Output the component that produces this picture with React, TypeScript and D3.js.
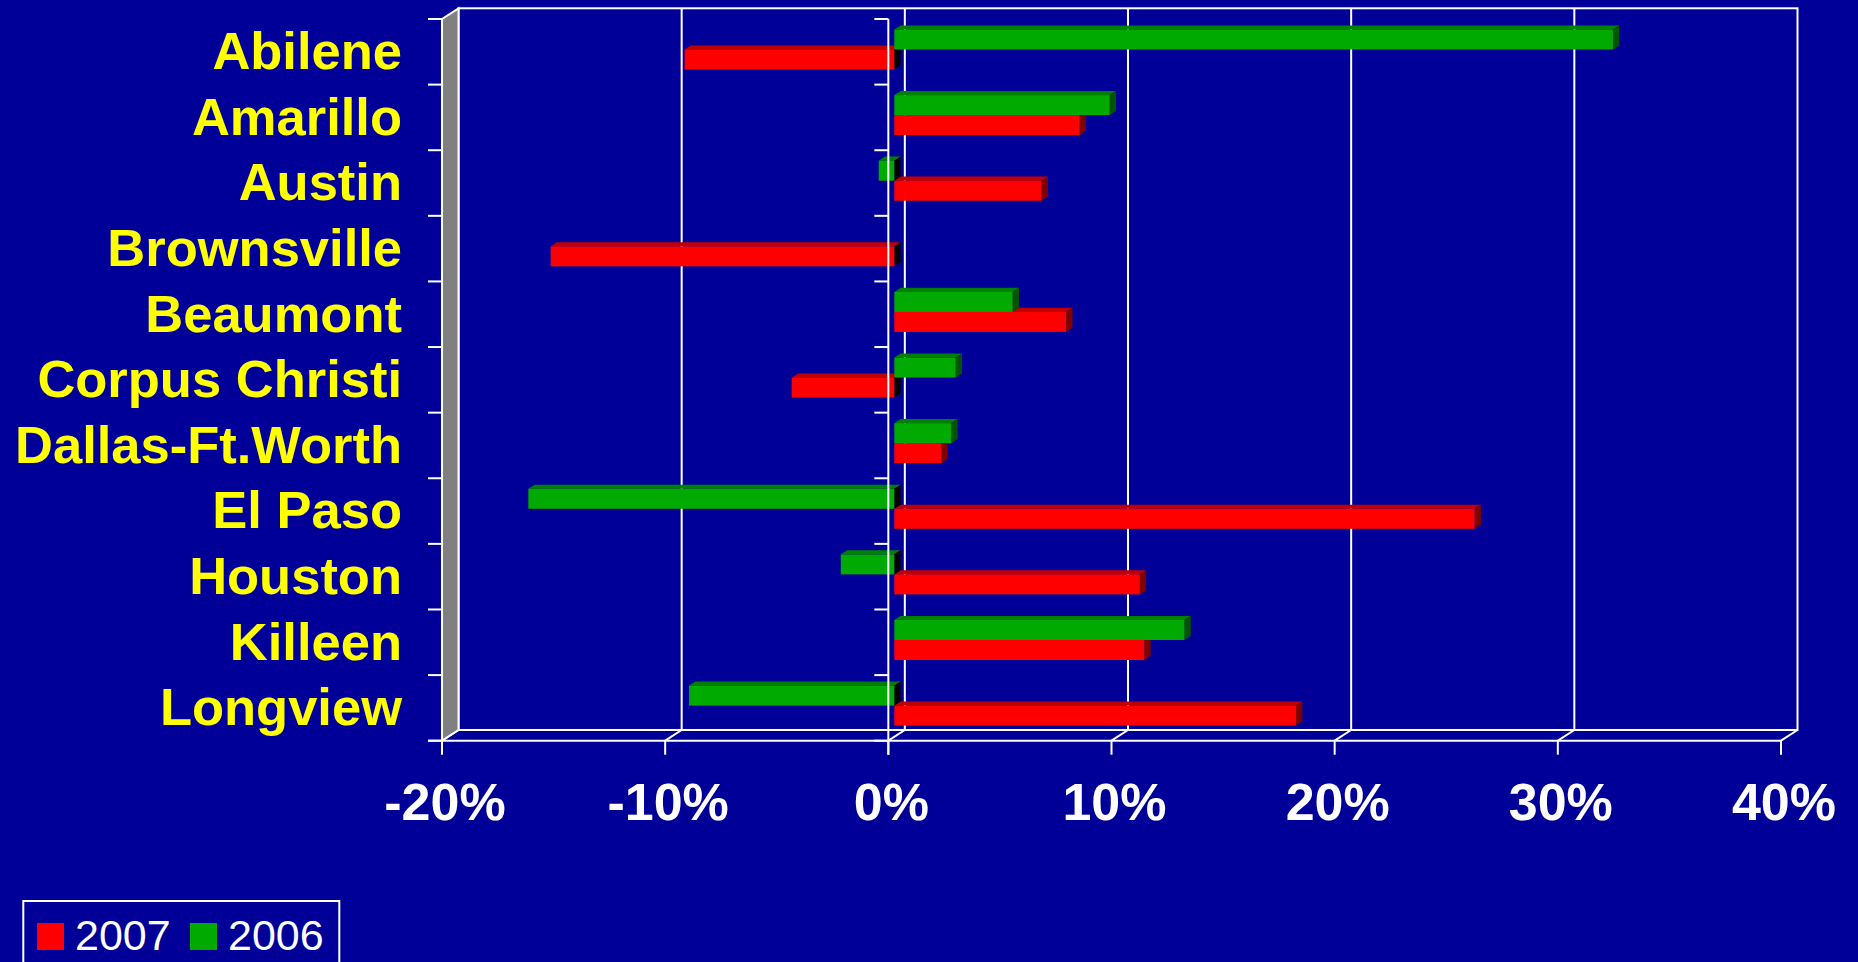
import React from "react";
import * as d3 from "d3";

const categories = [
  "Abilene",
  "Amarillo",
  "Austin",
  "Brownsville",
  "Beaumont",
  "Corpus Christi",
  "Dallas-Ft.Worth",
  "El Paso",
  "Houston",
  "Killeen",
  "Longview",
];
const values2007: (number | null)[] = [-9.4, 8.3, 6.6, -15.4, 7.7, -4.6, 2.1, 26.0, 11.0, 11.2, 18.0];
const values2006: (number | null)[] = [32.2, 9.65, -0.7, null, 5.3, 2.75, 2.55, -16.4, -2.4, 13.0, -9.2];
const xTicks = [-20, -10, 0, 10, 20, 30, 40];
const seriesNames = ["2007", "2006"];

const W = 1858;
const H = 962;
const BG = "#000099";
const FONT = "'Liberation Sans', Arial, Helvetica, sans-serif";

const colors: Record<string, { front: string; top: string; side: string }> = {
  "2007": { front: "#FF0000", top: "#C00000", side: "#800000" },
  "2006": { front: "#00AA00", top: "#008000", side: "#005500" },
};

export default function App() {
  const x = d3.scaleLinear().domain([-20, 40]).range([442, 1781]);
  const y = d3.scaleBand<string>().domain(categories).range([19, 740.7]);
  const sub = d3
    .scaleBand<string>()
    .domain(["2006", "2007"])
    .range([1.6, y.bandwidth() + 1.6])
    .paddingOuter(0.64);

  const DX = 16.5;
  const DY = -10.7;
  const fx = 6, fy = -3.9;
  const bx = 12.3, by = -8.0;

  const top = 19;
  const bottom = 740.7;
  const x0 = x(0);

  const gridVals = xTicks;
  const tickYs = d3.range(categories.length + 1).map((i) => top + i * y.step());

  type Bar = { cat: string; series: string; v: number };
  const bars: Bar[] = [];
  for (let i = categories.length - 1; i >= 0; i--) {
    const v7 = values2007[i];
    const v6 = values2006[i];
    if (v7 !== null) bars.push({ cat: categories[i], series: "2007", v: v7 });
    if (v6 !== null) bars.push({ cat: categories[i], series: "2006", v: v6 });
  }

  const pts = (arr: [number, number][]) => arr.map((p) => p.join(",")).join(" ");

  return (
    <svg
      width={W}
      height={H}
      style={{ position: "absolute", left: 0, top: 0, display: "block", background: BG }}
    >
      <rect x={0} y={0} width={W} height={H} fill={BG} />
      {/* back wall */}
      <rect
        x={x(-20) + DX}
        y={top + DY}
        width={x(40) - x(-20)}
        height={bottom - top}
        fill="none"
        stroke="#fff"
        strokeWidth={2}
      />
      {gridVals.slice(1, -1).map((v) => (
        <line
          key={"g" + v}
          x1={x(v) + DX}
          x2={x(v) + DX}
          y1={top + DY}
          y2={bottom + DY}
          stroke="#fff"
          strokeWidth={2}
        />
      ))}
      {/* floor */}
      <line x1={428} x2={x(40)} y1={bottom} y2={bottom} stroke="#fff" strokeWidth={2} />
      {gridVals.map((v) => (
        <g key={"f" + v}>
          <line x1={x(v)} y1={bottom} x2={x(v) + DX} y2={bottom + DY} stroke="#fff" strokeWidth={2} />
          <line x1={x(v)} y1={bottom} x2={x(v)} y2={bottom + 14} stroke="#fff" strokeWidth={2} />
        </g>
      ))}
      {/* left wall */}
      <polygon
        points={pts([
          [x(-20), top],
          [x(-20) + DX, top + DY],
          [x(-20) + DX, bottom + DY],
          [x(-20), bottom],
        ])}
        fill="#808080"
        stroke="#fff"
        strokeWidth={2}
      />
      {tickYs.map((ty, i) => (
        <line key={"wt" + i} x1={x(-20) - 14} x2={x(-20)} y1={ty} y2={ty} stroke="#fff" strokeWidth={2} />
      ))}
      {/* bars */}
      {bars.map((b, i) => {
        const c = colors[b.series];
        const y0 = (y(b.cat) as number) + (sub(b.series) as number);
        const y1 = y0 + sub.bandwidth();
        const xa = x(Math.min(0, b.v));
        const xb = x(Math.max(0, b.v));
        const sideColor = b.v < 0 ? "#000000" : c.side;
        return (
          <g key={"b" + i}>
            <polygon
              points={pts([
                [xa + fx, y0 + fy],
                [xb + fx, y0 + fy],
                [xb + bx, y0 + by],
                [xa + bx, y0 + by],
              ])}
              fill={c.top}
            />
            <polygon
              points={pts([
                [xb + fx, y0 + fy],
                [xb + bx, y0 + by],
                [xb + bx, y1 + by],
                [xb + fx, y1 + fy],
              ])}
              fill={sideColor}
            />
            <rect x={xa + fx} y={y0 + fy} width={xb - xa} height={y1 - y0} fill={c.front} />
          </g>
        );
      })}
      {/* front category axis at 0 */}
      <line x1={x0} x2={x0} y1={top} y2={bottom + 14} stroke="#fff" strokeWidth={2} />
      {tickYs.map((ty, i) => (
        <line key={"at" + i} x1={x0 - 14} x2={x0} y1={ty} y2={ty} stroke="#fff" strokeWidth={2} />
      ))}
      {/* category labels */}
      {categories.map((c) => (
        <text
          key={c}
          x={402}
          y={(y(c) as number) + y.bandwidth() / 2 + 17.3}
          textAnchor="end"
          fill="#FFFF00"
          fontFamily={FONT}
          fontWeight="bold"
          fontSize={52.5}
        >
          {c}
        </text>
      ))}
      {/* x tick labels */}
      {xTicks.map((v) => (
        <text
          key={"xl" + v}
          x={x(v) + 3}
          y={820}
          textAnchor="middle"
          fill="#fff"
          fontFamily={FONT}
          fontWeight="bold"
          fontSize={52}
        >
          {`${v}%`}
        </text>
      ))}
      {/* legend */}
      <rect x={23.3} y={901} width={316} height={120} fill="none" stroke="#fff" strokeWidth={2} />
      {seriesNames.map((s, i) => {
        const lx = 37 + i * 153;
        return (
          <g key={"lg" + s}>
            <rect x={lx} y={923} width={27} height={27} fill={colors[s].front} />
            <text x={lx + 38} y={950} fill="#fff" fontFamily={FONT} fontSize={43}>
              {s}
            </text>
          </g>
        );
      })}
    </svg>
  );
}
